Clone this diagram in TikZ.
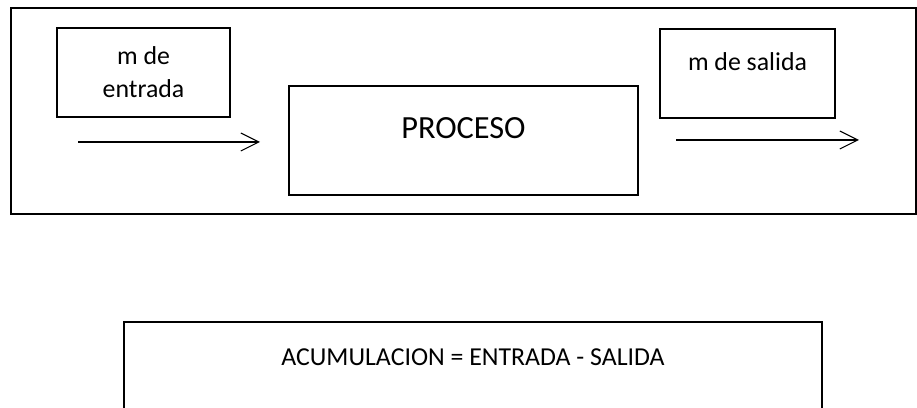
\documentclass[tikz,border=0pt]{standalone}
\usepackage{fontspec}
\setmainfont{Carlito}
\usetikzlibrary{arrows.meta}

\begin{document}
\begin{tikzpicture}[x=0.02cm, y=-0.02cm,
        caja/.style={draw, rectangle, line width=1.2pt, font=\fontsize{14.7}{18.7}\selectfont, align=center},
        flujo/.style={line width=0.6pt, -{Straight Barb[length=0.36cm, width=0.36cm, line width=0.6pt]}}]
        \clip (0,0) rectangle (917,408);
        \node[caja, minimum width=18.1cm, minimum height=4.12cm] (sistema) at (463.5,111) {};
        
        \node[caja, minimum width=3.46cm, minimum height=1.78cm] (entrada) at (143.5,72.5) {m de\\entrada};
        \node[caja, minimum width=6.98cm, minimum height=2.18cm, font=\fontsize{18.4}{22}\selectfont, text height=0.4cm, text depth=0.49cm] (proceso) at (463.5,140.5) {PROCESO};
        \node[caja, minimum width=3.5cm, minimum height=1.78cm, text height=0.4cm, text depth=0.5cm] (salida) at (747.5,73.5) {m de salida};
        
        \coordinate (ent1) at (78,142);
        \coordinate (ent2) at (260,142);
        \coordinate (sal1) at (676,140);
        \coordinate (sal2) at (859,140);
        \draw[flujo] (ent1) -- (ent2);
        \draw[flujo] (sal1) -- (sal2);
        
        \node[caja, minimum width=13.96cm, minimum height=2.4cm, text height=0.35cm, text depth=1.01cm] (balance) at (473,382) {ACUMULACION = ENTRADA - SALIDA};
    \end{tikzpicture}
\end{document}
